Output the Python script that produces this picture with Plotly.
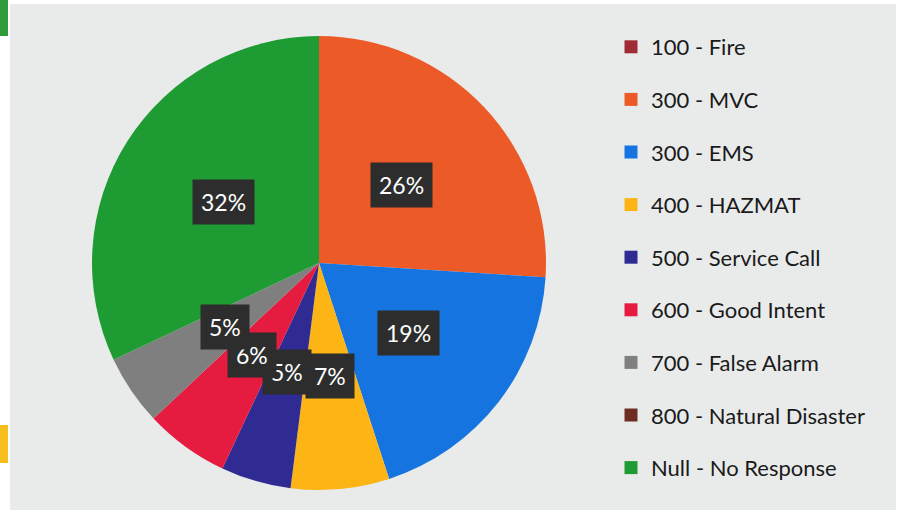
import math
import plotly.graph_objects as go

# ---- data ----
labels = ["100 - Fire", "300 - MVC", "300 - EMS", "400 - HAZMAT", "500 - Service Call",
          "600 - Good Intent", "700 - False Alarm", "800 - Natural Disaster", "Null - No Response"]
values = [0, 26, 19, 7, 5, 6, 5, 0, 32]
colors = ["#a02b35", "#ec5a28", "#1674e0", "#fdb515", "#2f2b93",
          "#e51c40", "#7f7f7f", "#6e2d22", "#1f9b34"]

# ---- layout constants ----
W, H = 902, 516
CX, CY, R = 319, 263, 227
LABEL_R = 0.5

fig = go.Figure()
fig.add_trace(go.Pie(
    labels=labels, values=values, sort=False, direction="clockwise", rotation=0,
    marker=dict(colors=colors, line=dict(width=0)),
    textinfo="none", hoverinfo="label+percent", showlegend=False,
    domain=dict(x=[(CX - R) / W, (CX + R) / W], y=[1 - (CY + R) / H, 1 - (CY - R) / H]),
))

# legend entries (one group each so spacing can be controlled)
for lab, col in zip(labels, colors):
    fig.add_trace(go.Scatter(x=[None], y=[None], mode="markers", name=lab, legendgroup=lab,
                             marker=dict(symbol="square", size=13, color=col), hoverinfo="skip"))

# data labels in dark boxes at mid-angle of each slice
annotations = []
total = sum(values)
cum = 0
for v in values:
    if v > 0:
        mid = (cum + v / 2) / total * 2 * math.pi
        px = CX + LABEL_R * R * math.sin(mid)
        py = CY - LABEL_R * R * math.cos(mid)
        annotations.append(dict(
            x=px / W, y=1 - py / H, xref="paper", yref="paper", showarrow=False,
            text=f"{round(v / total * 100)}%", font=dict(family="Lato", size=23, color="white"),
            bgcolor="#2d2d2d", borderpad=8, xanchor="center", yanchor="middle"))
    cum += v

shapes = [
    dict(type="rect", xref="paper", yref="paper", x0=10 / W, x1=896 / W, y0=1 - 510 / H, y1=1 - 4 / H,
         fillcolor="#e9ebeb", line=dict(width=0), layer="below"),
    dict(type="rect", xref="paper", yref="paper", x0=0, x1=8 / W, y0=1 - 36 / H, y1=1,
         fillcolor="#2f9a3a", line=dict(width=0), layer="below"),
    dict(type="rect", xref="paper", yref="paper", x0=0, x1=8 / W, y0=1 - 463 / H, y1=1 - 425 / H,
         fillcolor="#f7be1e", line=dict(width=0), layer="below"),
]

fig.update_layout(
    width=W, height=H, margin=dict(l=0, r=0, t=0, b=0),
    paper_bgcolor="white", plot_bgcolor="rgba(0,0,0,0)",
    xaxis=dict(visible=False), yaxis=dict(visible=False),
    shapes=shapes, annotations=annotations,
    legend=dict(x=611 / W, y=1 - 26 / H, xanchor="left", yanchor="top",
                font=dict(family="Lato", size=22, color="#1a1a1a"),
                tracegroupgap=21, bgcolor="rgba(0,0,0,0)", itemclick=False),
)

fig.write_html("out.html")
